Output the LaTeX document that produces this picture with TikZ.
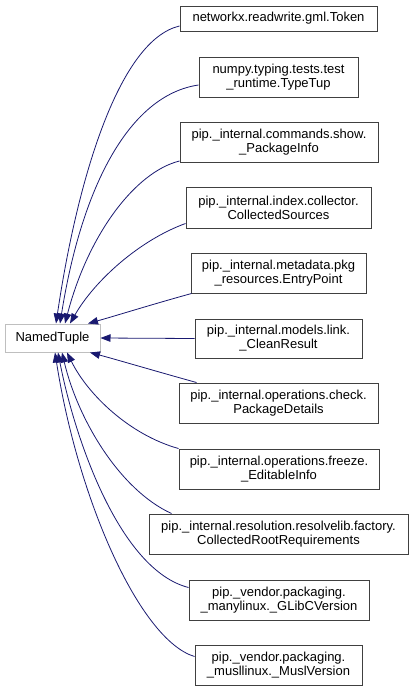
\documentclass[tikz,border=0pt]{standalone}
\usepackage{fontspec}
\setmainfont{Liberation Sans}
\usetikzlibrary{arrows.meta}
\definecolor{edgeblue}{HTML}{191970}
\definecolor{boxgray}{HTML}{404040}
\definecolor{rootgray}{HTML}{BFBFBF}
\tikzset{
  cls/.style={draw=boxgray, line width=1pt, fill=white, inner sep=0pt, align=center,
    font=\fontsize{13}{14}\selectfont},
  root/.style={draw=rootgray, line width=1pt, fill=white, inner sep=0pt, align=center,
    font=\fontsize{13}{14}\selectfont, minimum width=95pt, minimum height=28pt},
  edge/.style={draw=edgeblue, line width=0.8pt, -{Triangle[length=10pt,width=7.5pt]}},
}
\begin{document}
\begin{tikzpicture}[x=1pt,y=-1pt]
\useasboundingbox (0,0) rectangle (413,691);
\node[root] (nt) at (52.5,338) {NamedTuple};
\node[cls, minimum width=197pt, minimum height=25pt] (b1) at (278.5,18.5) {networkx.readwrite.gml.Token};
\node[cls, minimum width=159pt, minimum height=40pt] (b2) at (278.5,77) {numpy.typing.tests.test\\\_runtime.TypeTup};
\node[cls, minimum width=198pt, minimum height=40pt] (b3) at (279,142.5) {pip.\_internal.commands.show.\\\_PackageInfo};
\node[cls, minimum width=185pt, minimum height=41pt] (b4) at (278.5,207.5) {pip.\_internal.index.collector.\\CollectedSources};
\node[cls, minimum width=175pt, minimum height=40pt] (b5) at (278.5,273) {pip.\_internal.metadata.pkg\\\_resources.EntryPoint};
\node[cls, minimum width=167pt, minimum height=39pt] (b6) at (278.5,338.5) {pip.\_internal.models.link.\\\_CleanResult};
\node[cls, minimum width=199pt, minimum height=40pt] (b7) at (278.5,403) {pip.\_internal.operations.check.\\PackageDetails};
\node[cls, minimum width=200pt, minimum height=40pt] (b8) at (279,469) {pip.\_internal.operations.freeze.\\\_EditableInfo};
\node[cls, minimum width=259pt, minimum height=40pt] (b9) at (278.5,534) {pip.\_internal.resolution.resolvelib.factory.\\CollectedRootRequirements};
\node[cls, minimum width=180pt, minimum height=40pt] (b10) at (279,600) {pip.\_vendor.packaging.\\\_manylinux.\_GLibCVersion};
\node[cls, minimum width=167pt, minimum height=40pt] (b11) at (278.5,665) {pip.\_vendor.packaging.\\\_musllinux.\_MuslVersion};

\draw[edge] ([yshift=-7.5pt]b1.west) .. controls (120,40) and (78,175) .. ([xshift=3.5pt]nt.north);
\draw[edge] ([yshift=-8pt]b2.west) .. controls (130,95) and (82,185) .. ([xshift=7.5pt]nt.north);
\draw[edge] ([yshift=2pt]b3.south west) .. controls (135,172) and (88,235) .. ([xshift=12.5pt]nt.north);
\draw[edge] ([yshift=5pt]b4.south west) .. controls (140,240) and (95,280) .. ([xshift=17.5pt]nt.north);
\draw[edge] ([xshift=1pt]b5.south west) .. controls (150,305) and (115,316) .. ([xshift=35.5pt]nt.north);
\draw[edge] (b6.west) -- (nt.east);
\draw[edge] ([xshift=18pt]b7.north west) .. controls (155,371) and (118,360) .. ([xshift=37.5pt]nt.south);
\draw[edge] (b8.north west) .. controls (130,435) and (88,395) .. ([xshift=14.5pt]nt.south);
\draw[edge] ([xshift=23pt]b9.north west) .. controls (120,490) and (78,420) .. ([xshift=9.5pt]nt.south);
\draw[edge] ([yshift=-8pt]b10.north west) .. controls (120,570) and (75,440) .. ([xshift=5.5pt]nt.south);
\draw[edge] ([yshift=-12pt]b11.north west) .. controls (140,640) and (78,500) .. ([xshift=2.5pt]nt.south);
\end{tikzpicture}
\end{document}
